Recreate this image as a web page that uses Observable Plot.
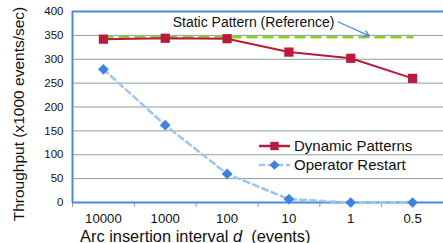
<!DOCTYPE html>
<html><head><meta charset="utf-8">
<script src="https://cdn.jsdelivr.net/npm/d3@7"></script>
<script src="https://cdn.jsdelivr.net/npm/@observablehq/plot@0.6"></script>
<style>
html,body{margin:0;padding:0;background:#fff;}
#wrap{position:relative;width:443px;height:243px;font-family:"Liberation Sans",Arial,sans-serif;}
#legend{position:absolute;left:258px;top:136px;font-size:15px;line-height:19px;color:#111;}
#legend div{display:flex;align-items:center;height:19px;}
#legend svg{margin-right:3px;}
</style></head>
<body><div id="wrap"><div id="chart"></div><div id="legend"></div></div>
<script>
const categories = ["10000","1000","100","10","1","0.5"];
const dynamicPatterns = [342, 344, 343, 315, 302, 260];
const operatorRestart = [279, 162, 60, 7, 0, 0];
const staticPattern = 346;
const yTicks = [0,50,100,150,200,250,300,350,400];

const idx = categories.map((_, i) => i);
const boundaries = [...idx.map(i => i - 0.5), categories.length - 0.5];
const dyn = idx.map(i => ({i, v: dynamicPatterns[i]}));
const ops = idx.map(i => ({i, v: operatorRestart[i]}));
const stat = idx.map(i => ({i, v: staticPattern}));

const red = "#bb1a3c", blueM = "#3f80e2", blueL = "#9dc6ee", green = "#8ad41e", frameC = "#4a8ae0", grid = "#8e9d9b";
const FONT = '"Liberation Sans", Arial, sans-serif';

const chart = Plot.plot({
  width: 443, height: 243,
  marginLeft: 72, marginRight: 0, marginTop: 11, marginBottom: 41,
  style: {fontFamily: FONT, background: "#fff", color: "#111"},
  x: {type: "linear", domain: [-0.5, categories.length - 0.5]},
  y: {domain: [0, 400]},
  marks: [
    Plot.ruleY(yTicks, {stroke: grid, strokeWidth: 1}),
    Plot.axisY(yTicks, {tickSize: 0, tickPadding: 9, fontSize: 11.5, label: null}),
    Plot.axisX(boundaries, {tickSize: 5, stroke: "#999", tickFormat: () => "", label: null}),
    Plot.axisX(idx, {tickSize: 0, tickPadding: 11, fontSize: 13.2, tickFormat: i => categories[i], label: null}),
    Plot.ruleX([-0.5], {stroke: frameC, strokeWidth: 2}),
    Plot.ruleY([0, 400], {stroke: frameC, strokeWidth: 2}),
    Plot.line(stat, {x: "i", y: "v", stroke: green, strokeWidth: 2.5, strokeDasharray: "9,7"}),
    Plot.line(ops, {x: "i", y: "v", stroke: blueL, strokeWidth: 2.5, strokeDasharray: "6,4"}),
    Plot.dot(ops, {x: "i", y: "v", symbol: "diamond2", r: 4.6, fill: blueM, stroke: blueM, strokeWidth: 0.5}),
    Plot.line(dyn, {x: "i", y: "v", stroke: red, strokeWidth: 2}),
    Plot.dot(dyn, {x: "i", y: "v", symbol: "square", r: 5.2, fill: red}),
    Plot.text(["Static Pattern (Reference)"], {x: [1.12], y: [376], fontSize: 14, textAnchor: "start", fill: "#111"}),
    Plot.arrow([{x1: 3.8, y1: 378, x2: 4.3, y2: 349}], {x1: "x1", y1: "y1", x2: "x2", y2: "y2", stroke: "#4a8ae0", strokeWidth: 1.3, headLength: 7, bend: 0})
  ]
});
document.getElementById("chart").append(chart);

const svg = d3.select(chart);
// y-axis title
svg.append("text").attr("transform", "translate(24,114) rotate(-90)").attr("text-anchor", "middle")
  .attr("font-size", 15.5).attr("fill", "#111").attr("font-family", FONT)
  .text("Throughput (x1000 events/sec)");
// x-axis title with italic d
const t = svg.append("text").attr("x", 80).attr("y", 241.5).attr("font-size", 16.4).attr("fill", "#111")
  .attr("text-anchor", "start").attr("font-family", FONT).attr("xml:space", "preserve").style("white-space", "pre");
t.append("tspan").text("Arc insertion interval ");
t.append("tspan").attr("font-style", "italic").text("d");
t.append("tspan").text("\u00a0 (events)");

// legend
const legend = [
  {label: "Dynamic Patterns", stroke: red, dash: null, sym: "square", fill: red},
  {label: "Operator Restart", stroke: blueL, dash: "6,3", sym: "diamond", fill: blueM}
];
const lg = d3.select("#legend");
legend.forEach(e => {
  const row = lg.append("div");
  const s = row.append("svg").attr("width", 33).attr("height", 14);
  s.append("line").attr("x1", 1).attr("x2", 32).attr("y1", 7).attr("y2", 7)
    .attr("stroke", e.stroke).attr("stroke-width", 2.5).attr("stroke-dasharray", e.dash);
  const sym = e.sym === "square" ? d3.symbolSquare : d3.symbolDiamond2;
  s.append("path").attr("transform", "translate(16.5,7)").attr("d", d3.symbol(sym, e.sym === "square" ? 70 : 60)()).attr("fill", e.fill);
  row.append("span").text(e.label);
});
</script></body></html>
